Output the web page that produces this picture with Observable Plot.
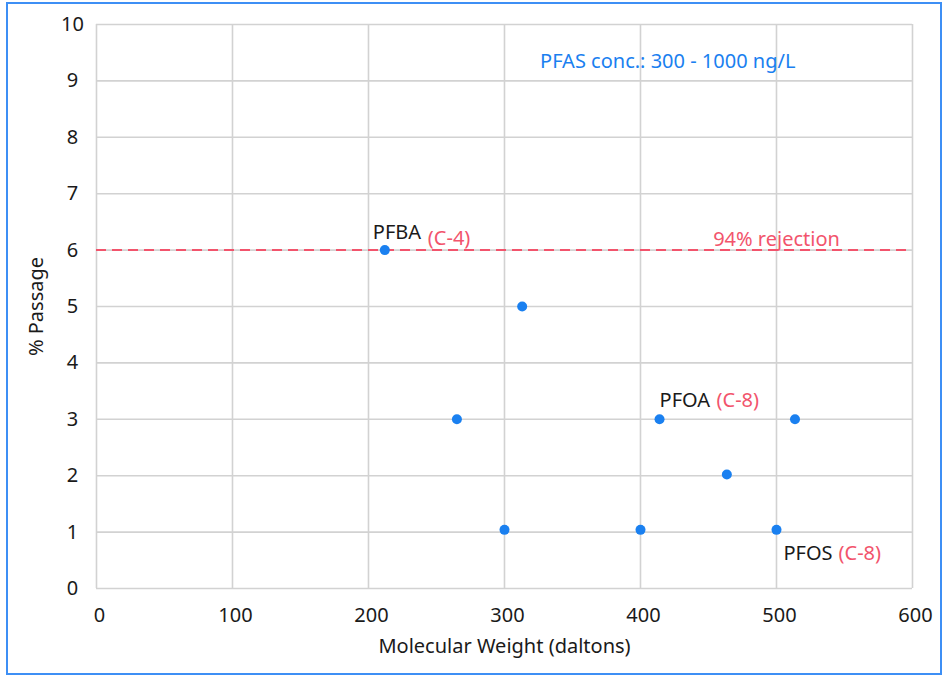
<!DOCTYPE html>
<html>
<head>
<meta charset="utf-8">
<script src="https://cdn.jsdelivr.net/npm/d3@7"></script>
<script src="https://cdn.jsdelivr.net/npm/@observablehq/plot@0.6"></script>
<style>
  html, body { margin: 0; padding: 0; background: #fff; }
  #wrap { position: relative; width: 942px; height: 675px; }
  #border { position: absolute; left: 6px; top: 2px; width: 932px; height: 669px; border: 2px solid #3d8ff5; pointer-events: none; }
  svg { font-family: "Noto Sans", sans-serif; }
</style>
</head>
<body>
<div id="wrap"><div id="border"></div></div>
<script>
// Data
const molecularWeight = [212, 313, 265, 300, 400, 414, 463.5, 500, 513.6];
const passage         = [6,   5,   3,   1.04, 1.04, 3,  2.02, 1.04, 3];
const xTicks = [0, 100, 200, 300, 400, 500, 600];
const yTicks = [0, 1, 2, 3, 4, 5, 6, 7, 8, 9, 10];
const rejectionLevel = 6;
const xLabel = "Molecular Weight (daltons)";
const yLabel = "% Passage";
const concLabel = "PFAS conc.: 300 - 1000 ng/L";
const rejectionLabel = "94% rejection";
const compoundNames = ["PFBA", "PFOA", "PFOS"];
const compoundChains = ["(C-4)", "(C-8)", "(C-8)"];
const compoundIndex = [0, 5, 7];

const points = molecularWeight.map((x, i) => ({x, y: passage[i]}));
const labelled = compoundIndex.map((k, i) => ({x: molecularWeight[k], y: passage[k], name: compoundNames[i], chain: compoundChains[i]}));

const BLUE = "#1a80f0", RED = "#f2546c", BLACK = "#1a1a1a", GRID = "#d2d2d2";
const FS = 20;

const chart = Plot.plot({
  width: 942,
  height: 675,
  marginLeft: 96,
  marginRight: 30,
  marginTop: 24,
  marginBottom: 87,
  style: {fontFamily: "'Noto Sans', sans-serif", fontSize: FS + "px", background: "transparent"},
  x: {domain: [0, 600], ticks: xTicks},
  y: {domain: [0, 10], ticks: yTicks},
  marks: [
    Plot.gridX(xTicks, {stroke: GRID, strokeOpacity: 1, strokeWidth: 1.6}),
    Plot.gridY(yTicks, {stroke: GRID, strokeOpacity: 1, strokeWidth: 1.6}),
    Plot.axisX(xTicks, {tickSize: 0, tickPadding: 19, dx: 3, label: null, tickFormat: d3.format("d"), fontSize: FS, fill: BLACK}),
    Plot.axisY(yTicks, {tickSize: 0, tickPadding: 24, textAnchor: "middle", label: null, tickFormat: d3.format("d"), fontSize: FS, fill: BLACK}),
    Plot.ruleY([rejectionLevel], {stroke: RED, strokeWidth: 2, strokeDasharray: "10,6"}),
    Plot.dot(points, {x: "x", y: "y", r: 5, fill: BLUE, stroke: "none"}),
    Plot.text([rejectionLabel], {x: 500, y: rejectionLevel, text: d => d, dy: -11, fill: RED, fontSize: FS}),
    Plot.text([concLabel], {x: 420, y: 9.34, text: d => d, fill: BLUE, fontSize: FS}),
    // compound labels
    Plot.text([labelled[0]], {x: "x", y: "y", text: "name", textAnchor: "start", dx: -12, dy: -18, fill: BLACK, fontSize: FS}),
    Plot.text([labelled[0]], {x: "x", y: "y", text: "chain", textAnchor: "start", dx: 43, dy: -12, fill: RED, fontSize: FS}),
    Plot.text([labelled[1]], {x: "x", y: "y", text: "name", textAnchor: "start", dx: 0, dy: -19, fill: BLACK, fontSize: FS}),
    Plot.text([labelled[1]], {x: "x", y: "y", text: "chain", textAnchor: "start", dx: 57, dy: -19, fill: RED, fontSize: FS}),
    Plot.text([labelled[2]], {x: "x", y: "y", text: "name", textAnchor: "start", dx: 7, dy: 24, fill: BLACK, fontSize: FS}),
    Plot.text([labelled[2]], {x: "x", y: "y", text: "chain", textAnchor: "start", dx: 62, dy: 24, fill: RED, fontSize: FS}),
    // axis titles
    Plot.text([xLabel], {frameAnchor: "bottom", text: d => d, textAnchor: "middle", lineAnchor: "middle", dy: 58, fill: BLACK, fontSize: FS}),
    Plot.text([yLabel], {frameAnchor: "left", text: d => d, textAnchor: "middle", lineAnchor: "middle", rotate: -90, dx: -60, fill: BLACK, fontSize: FS})
  ]
});
document.getElementById("wrap").appendChild(chart);
</script>
</body>
</html>
